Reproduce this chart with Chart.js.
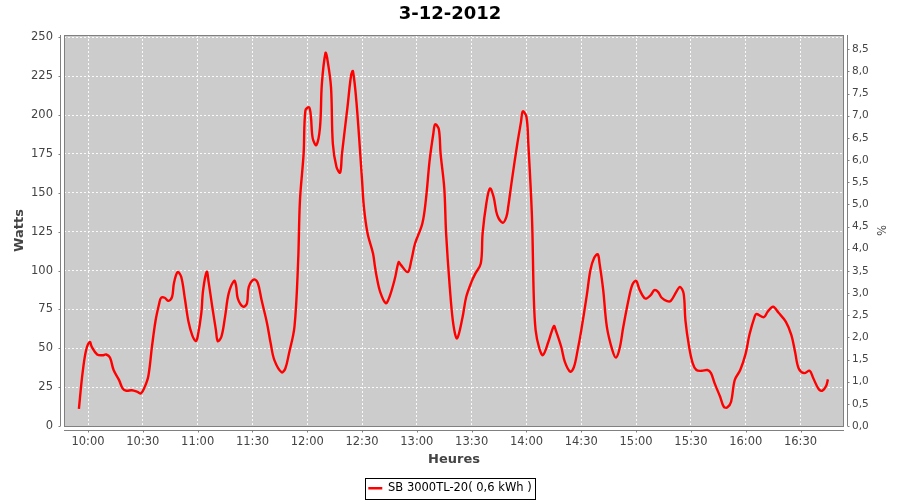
<!DOCTYPE html>
<html lang="fr">
<head>
  <meta charset="UTF-8">
  <title>3-12-2012</title>
  <script src="https://cdn.jsdelivr.net/npm/chart.js"></script>
  <style>
    html, body { margin: 0; padding: 0; background: #fff; }
    .wrap { width: 900px; height: 500px; }
  </style>
</head>
<body>
  <div class="wrap"><canvas id="prodChart"></canvas></div>
  <script>
    // relevés de la journée (heure, puissance en W)
    const times = [
      '09:55', '09:57', '09:59', '10:01', '10:02', '10:05', '10:08', '10:10', '10:12', '10:14',
      '10:17', '10:19', '10:21', '10:24', '10:27', '10:29', '10:31', '10:33', '10:35', '10:37',
      '10:39', '10:40', '10:42', '10:44', '10:46', '10:47', '10:49', '10:51', '10:53', '10:55',
      '10:57', '10:59', '11:00', '11:02', '11:03', '11:05', '11:06', '11:08', '11:10', '11:11',
      '11:13', '11:15', '11:17', '11:20', '11:21', '11:22', '11:25', '11:27', '11:28', '11:31',
      '11:33', '11:35', '11:38', '11:40', '11:42', '11:46', '11:48', '11:50', '11:53', '11:55',
      '11:56', '11:58', '11:59', '12:01', '12:02', '12:03', '12:05', '12:07', '12:08', '12:10',
      '12:11', '12:13', '12:14', '12:16', '12:18', '12:19', '12:22', '12:24', '12:25', '12:27',
      '12:30', '12:31', '12:33', '12:36', '12:37', '12:38', '12:40', '12:43', '12:45', '12:48',
      '12:50', '12:51', '12:55', '12:57', '12:59', '13:03', '13:05', '13:07', '13:09', '13:10',
      '13:12', '13:13', '13:15', '13:16', '13:18', '13:20', '13:22', '13:25', '13:27', '13:30',
      '13:32', '13:35', '13:36', '13:38', '13:40', '13:42', '13:44', '13:47', '13:49', '13:50',
      '13:52', '13:55', '13:57', '13:58', '14:00', '14:01', '14:03', '14:04', '14:05', '14:07',
      '14:09', '14:12', '14:15', '14:16', '14:19', '14:21', '14:24', '14:26', '14:28', '14:30',
      '14:33', '14:35', '14:37', '14:39', '14:40', '14:42', '14:44', '14:47', '14:49', '14:51',
      '14:53', '14:56', '14:58', '15:00', '15:02', '15:05', '15:08', '15:10', '15:12', '15:14',
      '15:17', '15:19', '15:22', '15:24', '15:26', '15:27', '15:29', '15:31', '15:33', '15:36',
      '15:39', '15:41', '15:43', '15:46', '15:48', '15:50', '15:52', '15:54', '15:57', '16:00',
      '16:02', '16:05', '16:06', '16:10', '16:12', '16:15', '16:18', '16:22', '16:25', '16:27',
      '16:29', '16:32', '16:35', '16:37', '16:40', '16:42', '16:44', '16:45'
    ];
    const watts = [
      11, 34, 49, 54, 51, 46, 45.5, 46, 44, 36,
      29.5, 24, 22.7, 23, 22, 21, 25, 32, 51, 68,
      79, 82.5, 82.5, 80.5, 83, 91.7, 99, 96, 82, 67,
      58.5, 54.6, 57.4, 72.4, 87.4, 99.2, 92.7, 76.7, 61.7, 54.6,
      57.4, 70.2, 85.3, 93.4, 90.6, 82, 76.7, 78.9, 89.5, 94.3,
      91.7, 81, 66, 53, 42.4, 34.5, 37, 46.7, 63.8, 105.6,
      145, 175, 203, 205, 199, 185, 180.6, 192.4, 220, 240,
      236, 218, 181.7, 166.6, 163, 175, 205, 225.6, 228.3, 207.4,
      158, 141, 124, 111, 103, 96, 86, 79, 83, 95,
      105.4, 104, 99, 106.7, 117.4, 130.3, 146.3, 171, 188, 194,
      191, 175, 153, 124, 89.5, 65, 56.4, 70, 83, 93,
      98, 104.6, 124, 143, 152.8, 147.4, 135.6, 130.7, 134.5, 141,
      158, 181.7, 195.6, 202.4, 198.8, 181.7, 134.5, 83, 61.7, 50,
      45.6, 54.2, 64.3, 61.7, 51, 41.3, 34.9, 38, 48.8, 61.7,
      84, 100.3, 108, 110.5, 104.6, 87.4, 63.8, 48.8, 44, 50,
      63.8, 82, 91, 93.4, 87.4, 82, 84.2, 87.4, 86.3, 82.5,
      80.3, 80.5, 86.3, 89.5, 85.3, 68, 51, 40.3, 36, 35.5,
      36, 34, 27.4, 18.8, 12.4, 12, 15.6, 29.6, 36, 46.7,
      58.5, 70.7, 72, 70, 73.5, 76.7, 72.8, 67, 58.5, 47.8,
      37, 34, 35.5, 30.7, 23.6, 22.7, 25.7, 30
    ];
    const hourTicks = ['10:00', '10:30', '11:00', '11:30', '12:00', '12:30', '13:00', '13:30',
      '14:00', '14:30', '15:00', '15:30', '16:00', '16:30'];
    const wattTicks = [0, 25, 50, 75, 100, 125, 150, 175, 200, 225, 250];
    const pctTicks = [0, 0.5, 1, 1.5, 2, 2.5, 3, 3.5, 4, 4.5, 5, 5.5, 6, 6.5, 7, 7.5, 8, 8.5];

    const toMin = s => { const p = s.split(':'); return +p[0] * 60 + +p[1]; };
    const fmtHour = v => String(Math.floor(v / 60)).padStart(2, '0') + ':' + String(v % 60).padStart(2, '0');

    const FONT = 'DejaVu Sans';
    const AXIS_GREY = '#808080';

    // fond gris du graphique + axes décalés façon JFreeChart + cadre de légende
    const plotDeco = {
      id: 'plotDeco',
      beforeDraw(chart) {
        const { ctx, chartArea: a } = chart;
        ctx.save();
        ctx.fillStyle = '#cccccc';
        ctx.fillRect(a.left, a.top, a.right - a.left, a.bottom - a.top);
        ctx.restore();
      },
      afterDraw(chart) {
        const { ctx, chartArea: a, scales } = chart;
        ctx.save();
        ctx.strokeStyle = AXIS_GREY;
        ctx.lineWidth = 1;
        ctx.strokeRect(a.left + 0.5, a.top + 0.5, a.right - a.left - 1, a.bottom - a.top);

        ctx.beginPath();
        // axe gauche
        const xl = a.left - 3.5;
        ctx.moveTo(xl, a.top); ctx.lineTo(xl, a.bottom);
        scales.y.ticks.forEach(t => {
          const y = Math.round(scales.y.getPixelForValue(t.value)) + 0.5;
          ctx.moveTo(xl, y); ctx.lineTo(xl - 2, y);
        });
        // axe droit
        const xr = a.right + 3.5;
        ctx.moveTo(xr, a.top); ctx.lineTo(xr, a.bottom);
        scales.y2.ticks.forEach(t => {
          const y = Math.round(scales.y2.getPixelForValue(t.value)) + 0.5;
          ctx.moveTo(xr, y); ctx.lineTo(xr + 2, y);
        });
        // axe du bas
        const yb = a.bottom + 4.5;
        ctx.moveTo(a.left, yb); ctx.lineTo(a.right, yb);
        scales.x.ticks.forEach(t => {
          const x = Math.round(scales.x.getPixelForValue(t.value)) + 0.5;
          ctx.moveTo(x, yb); ctx.lineTo(x, yb + 2);
        });
        ctx.stroke();

        // cadre de la légende
        const hb = chart.legend && chart.legend.legendHitBoxes[0];
        if (hb) {
          ctx.strokeStyle = '#000';
          ctx.strokeRect(Math.round(hb.left - 3) + 0.5, Math.round(hb.top - 5) + 0.5,
            Math.round(hb.width + 7), Math.round(hb.height + 9));
        }
        ctx.restore();
      }
    };

    const ctx = document.getElementById('prodChart').getContext('2d');

    new Chart(ctx, {
      type: 'line',
      data: {
        datasets: [{
          label: 'SB 3000TL-20( 0,6 kWh )',
          data: times.map((t, i) => ({ x: toMin(t), y: watts[i] })),
          borderColor: '#ff0000',
          backgroundColor: '#ff0000',
          borderWidth: 2.4,
          pointRadius: 0,
          tension: 0.35,
          fill: false,
          yAxisID: 'y'
        }]
      },
      options: {
        responsive: true,
        maintainAspectRatio: false,
        animation: false,
        layout: { padding: { top: 0, left: 0, right: 0, bottom: -4 } },
        plugins: {
          title: {
            display: true,
            text: '3-12-2012',
            color: '#000',
            font: { family: FONT, size: 18, weight: 'bold' },
            padding: { top: 3.5, bottom: 9.9 }
          },
          legend: {
            position: 'bottom',
            labels: {
              color: '#000',
              font: { family: FONT, size: 11.5 },
              usePointStyle: true,
              pointStyle: 'line',
              pointStyleWidth: 14,
              padding: 10
            }
          },
          tooltip: { enabled: false }
        },
        scales: {
          x: {
            type: 'linear',
            min: 586.85,
            max: 1013.8,
            afterBuildTicks: s => { s.ticks = hourTicks.map(h => ({ value: toMin(h) })); },
            afterFit: s => { s.height = 46.5; },
            ticks: {
              color: '#444',
              font: { family: FONT, size: 11.5 },
              padding: 9,
              autoSkip: false,
              maxRotation: 0,
              callback: v => fmtHour(v)
            },
            grid: { color: 'rgba(255,255,255,0.9)', drawTicks: false, lineWidth: 1 },
            border: { display: false, dash: [2, 2] },
            title: {
              display: true,
              text: 'Heures',
              color: '#444',
              font: { family: FONT, size: 13, weight: 'bold' },
              padding: { top: 0, bottom: 5.5 }
            }
          },
          y: {
            position: 'left',
            min: 0,
            max: 251.5,
            afterBuildTicks: s => { s.ticks = wattTicks.map(v => ({ value: v })); },
            afterFit: s => { s.width = 64; },
            ticks: {
              color: '#444',
              font: { family: FONT, size: 11.5 },
              padding: 11
            },
            grid: { color: 'rgba(255,255,255,0.9)', drawTicks: false, lineWidth: 1 },
            border: { display: false, dash: [2, 2] },
            title: {
              display: true,
              text: 'Watts',
              color: '#444',
              font: { family: FONT, size: 13, weight: 'bold' },
              padding: { top: 12, bottom: 0 }
            }
          },
          y2: {
            position: 'right',
            min: 0,
            max: 8.82,
            afterBuildTicks: s => { s.ticks = pctTicks.map(v => ({ value: v })); },
            afterFit: s => { s.width = 56; },
            ticks: {
              color: '#444',
              font: { family: FONT, size: 10.5 },
              padding: 8,
              callback: v => v.toFixed(1).replace('.', ',')
            },
            grid: { drawOnChartArea: false, drawTicks: false },
            border: { display: false },
            title: {
              display: true,
              text: '%',
              color: '#444',
              font: { family: FONT, size: 11.5 },
              padding: { top: 13, bottom: 0 }
            }
          }
        }
      },
      plugins: [plotDeco]
    });
  </script>
</body>
</html>
